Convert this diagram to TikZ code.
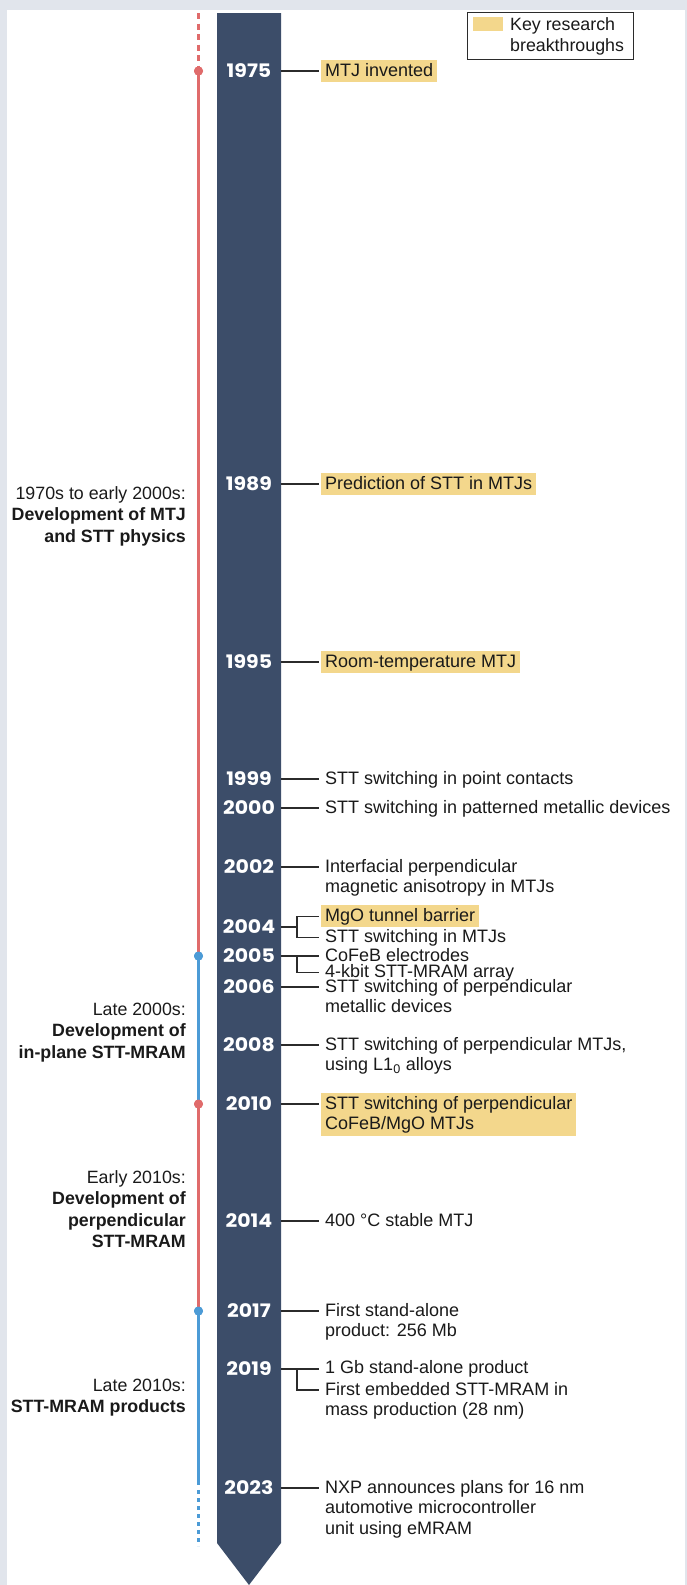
\documentclass[tikz,border=0pt]{standalone}
\usepackage{fontspec}
\setmainfont{Liberation Sans}
\newfontfamily\yearfamily{Poppins}[FakeStretch=1.1]
\usetikzlibrary{calc}

\definecolor{pagebg}{HTML}{E1E5EC}
\definecolor{barcol}{HTML}{3C4D69}
\definecolor{erared}{HTML}{E06B6B}
\definecolor{erablue}{HTML}{4C9BD6}
\definecolor{keyfill}{HTML}{F3D78C}
\definecolor{linkcol}{HTML}{2B2B2B}
\definecolor{inkcol}{HTML}{1A1A1A}

% strut: 15.5pt above the baseline, 5pt below
\newcommand\sst{\rule[-5pt]{0pt}{20.5pt}}
\newcommand\evfont{\fontsize{18pt}{20.5pt}\selectfont}
\newcommand\sidefont{\fontsize{17.8pt}{21.3pt}\selectfont}
\newcommand\keyfont{\fontsize{17.8pt}{20pt}\selectfont}
\newcommand\yrfont{\yearfamily\bfseries\fontsize{18.6pt}{20pt}\selectfont}

\tikzset{
  yearlab/.style={font=\yrfont, text=white, inner sep=0pt},
  evtext/.style={font=\evfont, align=left, anchor=north west, inner xsep=4pt, inner ysep=1pt, text=inkcol},
  keyev/.style={evtext, fill=keyfill},
  link/.style={draw=linkcol, line width=1.1pt, shorten >=2.5pt},
  linkbase/.style={draw=linkcol, line width=1.1pt},
  era/.style={font=\sidefont, align=right, anchor=north east, inner sep=0pt, text=inkcol},
  eraline/.style={line width=2.2pt},
  eradot/.style={circle, inner sep=0pt, minimum size=9pt},
}

\begin{document}
\begin{tikzpicture}[x=1pt, y=-1pt]
  % page and panel
  \useasboundingbox (0,0) rectangle (687,1585);
  \fill[pagebg] (0,0) rectangle (687,1585);
  \fill[white] (7,10) rectangle (685,1585);

  % central arrow bar
  \fill[barcol] (217,13) -- (281,13) -- (281,1543) -- (249,1585) -- (217,1543) -- cycle;
  \coordinate (barR) at (281,0);
  \coordinate (brX) at (297,0);

  % era line with its dots
  \node[eradot, fill=erared]  (d1975) at (198.5,71)   {};
  \node[eradot, fill=erablue] (d2005) at (198.5,956)  {};
  \node[eradot, fill=erared]  (d2010) at (198.5,1104) {};
  \node[eradot, fill=erablue] (d2017) at (198.5,1311) {};
  \coordinate (topend)    at (198.5,13);
  \coordinate (solidend)  at (198.5,1485);
  \coordinate (dotstart)  at (198.5,1490);
  \coordinate (bottomend) at (198.5,1546);
  \draw[eraline, erared, dash pattern=on 6pt off 4.5pt] (topend) -- (d1975.north);
  \draw[eraline, erared]  (d1975.center) -- (d2005.center);
  \draw[eraline, erablue] (d2005.center) -- (d2010.center);
  \draw[eraline, erared]  (d2010.center) -- (d2017.center);
  \draw[eraline, erablue] (d2017.center) -- (solidend);
  \draw[eraline, erablue, dash pattern=on 4pt off 4pt] (dotstart) -- (bottomend);
  \node[eradot, fill=erared]  at (d1975) {};
  \node[eradot, fill=erablue] at (d2005) {};
  \node[eradot, fill=erared]  at (d2010) {};
  \node[eradot, fill=erablue] at (d2017) {};

  % years
  \node[yearlab] (y1975) at (249,71)   {1975};
  \node[yearlab] (y1989) at (249,484)  {1989};
  \node[yearlab] (y1995) at (249,662)  {1995};
  \node[yearlab] (y1999) at (249,779)  {1999};
  \node[yearlab] (y2000) at (249,808)  {2000};
  \node[yearlab] (y2002) at (249,867)  {2002};
  \node[yearlab] (y2004) at (249,927)  {2004};
  \node[yearlab] (y2005) at (249,956)  {2005};
  \node[yearlab] (y2006) at (249,987)  {2006};
  \node[yearlab] (y2008) at (249,1045) {2008};
  \node[yearlab] (y2010) at (249,1104) {2010};
  \node[yearlab] (y2014) at (249,1221) {2014};
  \node[yearlab] (y2017) at (249,1311) {2017};
  \node[yearlab] (y2019) at (249,1369) {2019};
  \node[yearlab] (y2023) at (249,1488) {2023};

  % events
  \node[keyev]  (e1975)  at (321,59.75)   {\sst MTJ invented};
  \node[keyev]  (e1989)  at (321,472.75)  {\sst Prediction of STT in MTJs};
  \node[keyev]  (e1995)  at (321,650.75)  {\sst Room-temperature MTJ};
  \node[evtext] (e1999)  at (321,767.75)  {\sst STT switching in point contacts};
  \node[evtext] (e2000)  at (321,796.75)  {\sst STT switching in patterned metallic devices};
  \node[evtext] (e2002)  at (321,855.75)  {\sst Interfacial perpendicular\\\sst magnetic anisotropy in MTJs};
  \node[keyev]  (e2004a) at (321,904.75)  {\sst MgO tunnel barrier};
  \node[evtext] (e2004b) at (321,925.75)  {\sst STT switching in MTJs};
  \node[evtext] (e2005a) at (321,944.75)  {\sst CoFeB electrodes};
  \node[evtext] (e2005b) at (321,960.75)  {\sst 4-kbit STT-MRAM array};
  \node[evtext] (e2006)  at (321,975.75)  {\sst STT switching of perpendicular\\\sst metallic devices};
  \node[evtext] (e2008)  at (321,1033.75) {\sst STT switching of perpendicular MTJs,\\\sst using L1\textsubscript{0} alloys};
  \node[keyev]  (e2010)  at (321,1092.75) {\sst STT switching of perpendicular\\\sst CoFeB/MgO MTJs};
  \node[evtext] (e2014)  at (321,1209.75) {\sst 400 °C stable MTJ};
  \node[evtext] (e2017)  at (321,1299.75) {\sst First stand-alone\\\sst product: 256 Mb};
  \node[evtext] (e2019a) at (321,1356.75) {\sst 1 Gb stand-alone product};
  \node[evtext] (e2019b) at (321,1378.75) {\sst First embedded STT-MRAM in\\\sst mass production (28 nm)};
  \node[evtext] (e2023)  at (321,1476.75) {\sst NXP announces plans for 16 nm\\\sst automotive microcontroller\\\sst unit using eMRAM};

  % connectors
  \foreach \yr in {1975,1989,1995,1999,2000,2002,2006,2008,2010,2014,2017,2023}
    \draw[link] (y\yr -| barR) -- (y\yr -| e\yr.west);
  \draw[linkbase] (y2004 -| barR) -- (y2004 -| brX);
  \draw[link] (e2004a -| brX) -- (e2004a.west);
  \draw[link] (e2004a -| brX) |- (e2004b.west);
  \draw[link] (y2005 -| barR) -- (y2005 -| e2005a.west);
  \draw[link] (y2005 -| brX) |- (e2005b.west);
  \draw[link] (y2019 -| barR) -- (y2019 -| e2019a.west);
  \draw[link] (y2019 -| brX) |- ([yshift=-11.25pt]e2019b.north west);

  % eras
  \node[era] (era1) at (186,483.75)  {\sst 1970s to early 2000s:\\\sst\textbf{Development of MTJ}\\\sst\textbf{and STT physics}};
  \node[era] (era2) at (186,999.75)  {\sst Late 2000s:\\\sst\textbf{Development of}\\\sst\textbf{in-plane STT-MRAM}};
  \node[era] (era3) at (186,1167.75) {\sst Early 2010s:\\\sst\textbf{Development of}\\\sst\textbf{perpendicular}\\\sst\textbf{STT-MRAM}};
  \node[era] (era4) at (186,1375.75) {\sst Late 2010s:\\\sst\textbf{STT-MRAM products}};

  % legend
  \node[draw=linkcol, line width=1pt, fill=white, anchor=north west, minimum width=166pt, minimum height=47pt, inner sep=0pt] (legend) at (467,12) {};
  \node[fill=keyfill, anchor=north west, minimum width=30pt, minimum height=14pt, inner sep=0pt] (swatch) at (473,17) {};
  \node[font=\keyfont, align=left, anchor=north west, inner sep=0pt, text=inkcol] (keytext) at (510,14.75) {\sst Key research\\\sst breakthroughs};
\end{tikzpicture}
\end{document}
